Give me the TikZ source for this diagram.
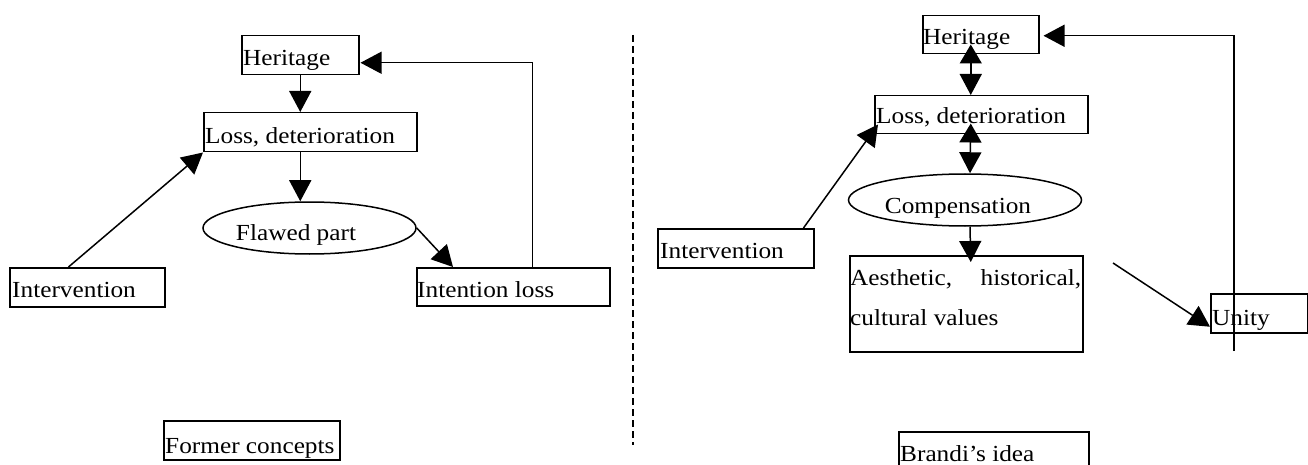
\documentclass[tikz,border=0pt]{standalone}
\usepackage{fontspec}
\setmainfont{Liberation Serif}[FakeStretch=1.1]
\usetikzlibrary{arrows.meta,shapes.geometric,calc}
\begin{document}
\begin{tikzpicture}[x=1pt,y=-1pt,
  box/.style={draw, line width=1.5pt, rectangle, inner sep=0pt, anchor=north west},
  oval/.style={draw, line width=1.5pt, ellipse, inner sep=0pt},
  txt/.style={anchor=base west, inner sep=0pt, font=\fontsize{23}{27}\selectfont},
  ctxt/.style={txt, anchor=base},
  arr/.style={line width=1.5pt, -{Triangle[width=22pt,length=21pt]}},
  thin/.style={line width=1.2pt, -{Triangle[width=22pt,length=21pt]}},
  darr/.style={line width=1.5pt, {Triangle[width=22pt,length=19pt]}-{Triangle[width=22pt,length=21pt]}},
  sep/.style={line width=1.4pt, dash pattern=on 7pt off 4pt}
]
\useasboundingbox (0,0) rectangle (1308,465);

% ---------- left: former concepts ----------
\node[box, minimum width=117pt, minimum height=39pt] (h1) at (241,35) {};
\node[box, minimum width=213pt, minimum height=39pt] (l1) at (203,112) {};
\node[oval, minimum width=213pt, minimum height=52pt] (e1) at (309.5,228) {};
\node[box, minimum width=155pt, minimum height=39pt] (i1) at (9,267) {};
\node[box, minimum width=193pt, minimum height=38pt] (il) at (416,267) {};
\node[box, minimum width=176pt, minimum height=39pt] (f1) at (163,420) {};

\node[txt]  (th1) at (243,66)  {Heritage};
\node[txt]  (tl1) at (205,144) {Loss, deterioration};
\node[ctxt] (te1) at (296,240) {Flawed part};
\node[txt]  (ti1) at (12,297)  {Intervention};
\node[txt]  (til) at (417,297) {Intention loss};
\node[txt]  (tf1) at (165,453) {Former concepts};

\draw[arr] (h1.south) -- (h1.south |- l1.north);
\draw[arr] (h1.south |- l1.south) -- (h1.south |- e1.north);
\draw[arr] ($(i1.north west)!0.38!(i1.north east)$) -- (l1.south west);
\draw[arr] (e1.east) -- ($(il.north west)+(37,0)$);
\draw[thin] ($(il.north west)!0.6!(il.north east)$) |- ($(h1.east)+(1,7.5)$);

% ---------- separator ----------
\coordinate (s0) at (633,35);
\coordinate (s1) at (633,445);
\draw[sep] (s0) -- (s1);

% ---------- right: Brandi's idea ----------
\node[box, minimum width=116pt, minimum height=38pt] (h2) at (922,15) {};
\node[box, minimum width=213pt, minimum height=38pt] (l2) at (874,95) {};
\node[oval, minimum width=233pt, minimum height=52pt] (e2) at (965,200) {};
\node[box, minimum width=233pt, minimum height=96pt] (a2) at (849,255) {};
\node[box, minimum width=156pt, minimum height=39pt] (i2) at (657,228) {};
\node[box, minimum width=97pt, minimum height=39pt] (u2) at (1210,293) {};
\node[box, minimum width=190pt, minimum height=45pt] (b2) at (898,431) {};

\node[txt]  (th2) at (923,45)  {Heritage};
\node[txt]  (tl2) at (876,124) {Loss, deterioration};
\node[ctxt] (te2) at (958,213) {Compensation};
\node[txt]  (ti2) at (660,258) {Intervention};
\node[txt, text width=231pt] (ta2) at (850,285) {Aesthetic,\hfill historical,};
\node[txt]  (tb2) at (850,325) {cultural values};
\node[txt]  (tu2) at (1212,325) {Unity};
\node[txt]  (tbr) at (900,461) {Brandi’s idea};

\draw[darr] ($(h2.south)+(-10,-10)$) -- ($(l2.north)+(-10.5,0)$);
\draw[darr] ($(l2.south)+(-10.5,-11)$) -- ($(e2.north)+(5,0)$);
\draw[arr] ($(e2.south)+(5,0)$) -- ($(a2.north)+(4.5,7)$);
\draw[arr] ($(i2.north west)!0.93!(i2.north east)$) -- ($(l2.south west)+(4,-10)$);
\coordinate (d0) at (1113,263);
\draw[arr] (d0) -- ($(u2.west)+(0,13.5)$);
\coordinate (d1) at (1234,351);
\draw[arr] (d1) |- ($(h2.east)+(4,1)$);
\end{tikzpicture}
\end{document}
